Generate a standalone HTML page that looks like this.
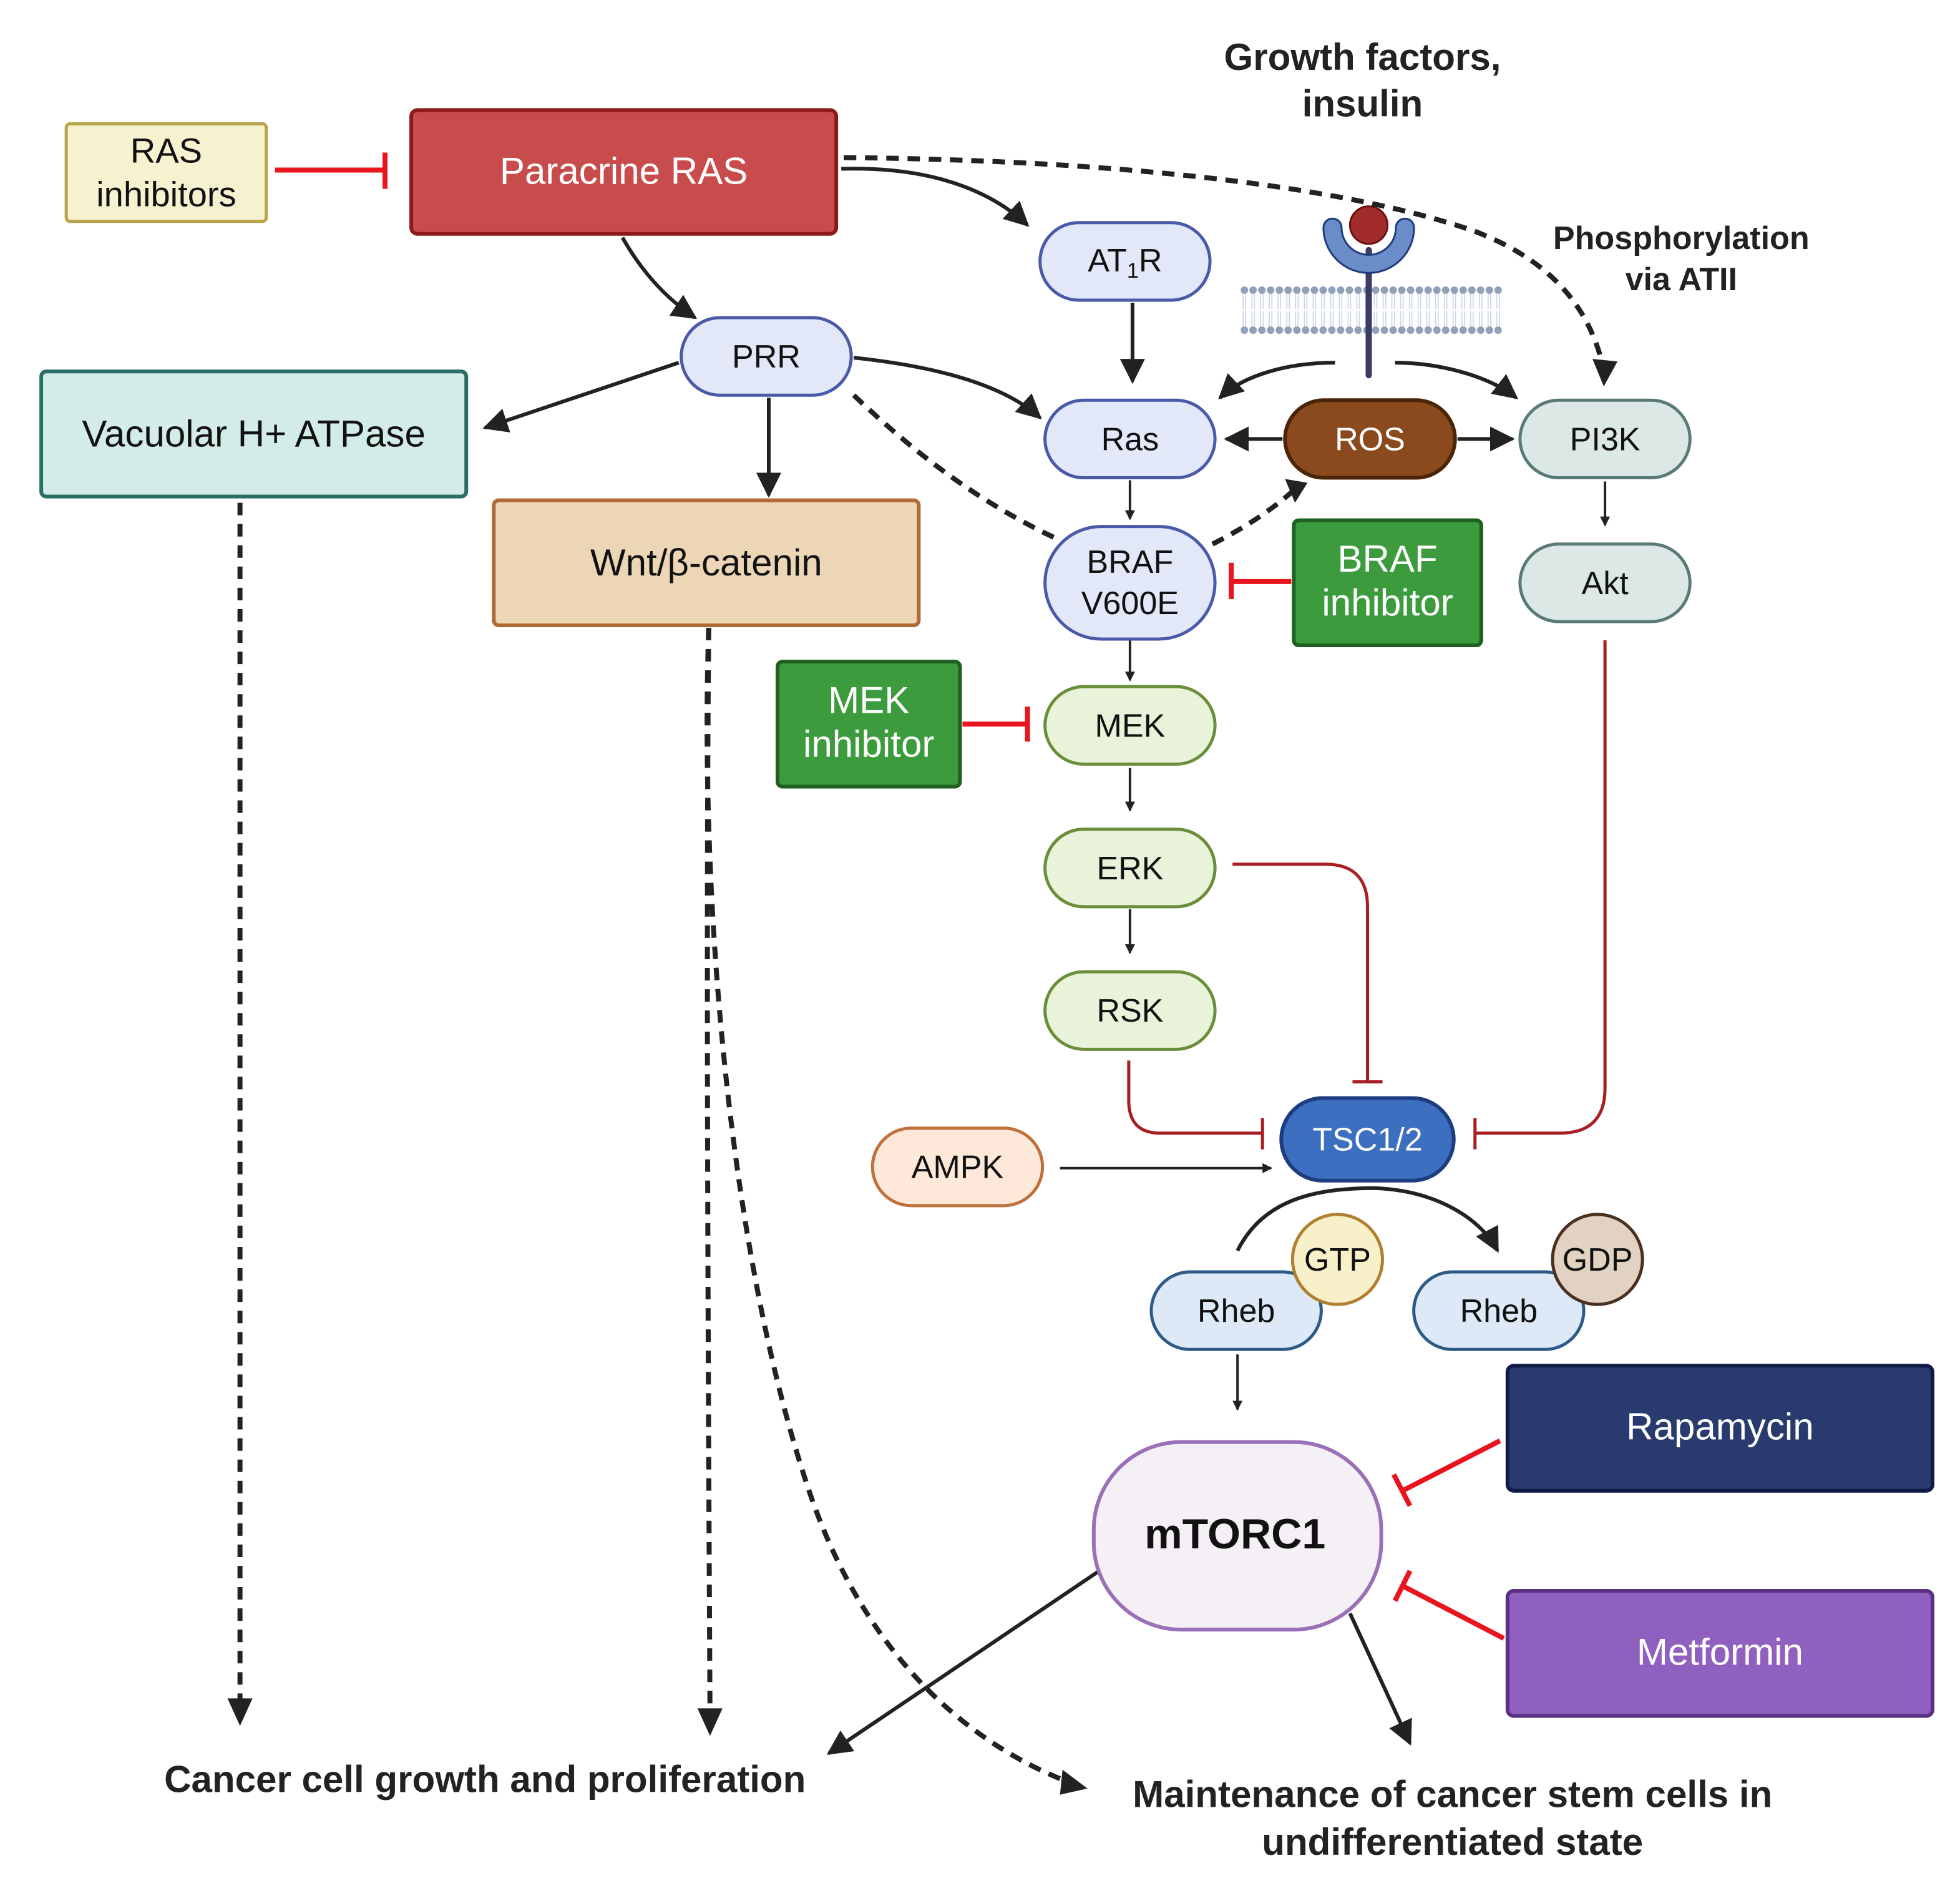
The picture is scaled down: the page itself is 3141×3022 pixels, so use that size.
<!DOCTYPE html>
<html><head><meta charset="utf-8"><style>
html,body{margin:0;padding:0;background:#fff;}
svg{display:block;}
text{font-family:"Liberation Sans",Arial,sans-serif;}
</style></head><body>
<svg width="3141" height="3022" viewBox="0 0 1568 1508" preserveAspectRatio="none" xmlns="http://www.w3.org/2000/svg">
<defs>
<marker id="a" markerWidth="8" markerHeight="8" refX="7" refY="4" orient="auto" markerUnits="userSpaceOnUse" viewBox="0 0 8 8"><path d="M0,0 L8,4 L0,8 Z" fill="#222"/></marker>
<marker id="A" viewBox="0 0 10 10" refX="9" refY="5" markerWidth="20" markerHeight="20" orient="auto" markerUnits="userSpaceOnUse"><path d="M0,0 L10,5 L0,10 Z" fill="#222"/></marker>
<pattern id="mem" x="992" y="228" width="7" height="40" patternUnits="userSpaceOnUse">
<circle cx="3.5" cy="4" r="3" fill="#8fa0b8"/><circle cx="3.5" cy="36" r="3" fill="#8fa0b8"/>
<path d="M2.5,7 V19 M4.5,7 V19 M2.5,21 V33 M4.5,21 V33" stroke="#c8d4e6" stroke-width="0.8"/>
</pattern>
</defs>
<rect width="1568" height="1508" fill="#fff"/>

<rect x="992" y="228" width="210" height="40" fill="url(#mem)"/>
<line x1="1095" y1="200" x2="1095" y2="300" stroke="#3d3a66" stroke-width="5" stroke-linecap="round"/>
<path d="M1066,182 A29,29 0 0 0 1124,182" fill="none" stroke="#1e3a7a" stroke-width="16" stroke-linecap="round"/>
<path d="M1066,182 A29,29 0 0 0 1124,182" fill="none" stroke="#6a8cc8" stroke-width="13" stroke-linecap="round"/>
<circle cx="1095" cy="180" r="15" fill="#a22c2c" stroke="#6a1010" stroke-width="1.5"/>

<g fill="none" stroke="#222" stroke-width="3">
<path d="M673,135 C740,133 790,150 822,180" marker-end="url(#A)"/>
<path d="M498,190 C515,220 535,240 556,254" marker-end="url(#A)"/>
<path d="M543,290 L388,342" marker-end="url(#A)"/>
<path d="M615,318 V396" marker-end="url(#A)"/>
<path d="M683,286 C740,292 800,305 832,334" marker-end="url(#A)"/>
<path d="M906,242 V305" marker-end="url(#A)"/>
<path d="M1068,290 C1030,290 995,300 976,318" marker-end="url(#A)"/>
<path d="M1116,290 C1150,290 1190,300 1213,318" marker-end="url(#A)"/>
<path d="M1026,351 H981" marker-end="url(#A)"/>
<path d="M1166,351 H1210" marker-end="url(#A)"/>
<path d="M990,1000 C1010,960 1050,950 1100,950 C1150,952 1185,975 1198,1000" marker-end="url(#A)"/>
<path d="M848,934 H1017" stroke-width="2" marker-end="url(#a)"/>
<path d="M878,1257 L663,1402" marker-end="url(#A)"/>
<path d="M1080,1290 L1128,1394" marker-end="url(#A)"/>
</g>
<g fill="none" stroke="#222" stroke-width="2">
<path d="M904,384 V415" marker-end="url(#a)"/>
<path d="M904,512 V544" marker-end="url(#a)"/>
<path d="M904,614 V648" marker-end="url(#a)"/>
<path d="M904,727 V762" marker-end="url(#a)"/>
<path d="M1284,385 V420" marker-end="url(#a)"/>
<path d="M990,1083 V1127" marker-end="url(#a)"/>
</g>
<g fill="none" stroke="#222" stroke-width="4" stroke-dasharray="10,7">
<path d="M675,126 C900,128 1080,150 1180,185 C1250,212 1275,255 1284,300"/>
<path d="M683,316 C740,370 790,405 848,432"/>
<path d="M970,435 C990,425 1015,410 1035,392"/>
<path d="M192,402 V1365"/>
<path d="M567,502 C565,700 566,1000 568,1370"/>
<path d="M567,502 C560,700 580,1000 650,1200 C700,1340 790,1400 855,1425"/>
</g>
<g fill="#222">
<path d="M182,1358 L202,1358 L192,1380 Z"/>
<path d="M558,1366 L578,1366 L568,1388 Z"/>
<path d="M1274,287 L1294,289 L1283,309 Z"/>
<path d="M1028,383 L1046,386 L1036,402 Z"/>
<path d="M850,1415 L870,1430 L848,1435 Z"/>
</g>

<g fill="none" stroke="#e8141e" stroke-width="4">
<path d="M220,136 H308"/><path d="M308,122 V151"/>
<path d="M1033,465 H985"/><path d="M985,450 V479"/>
<path d="M770,579 H822"/><path d="M822,565 V593"/>
<path d="M1200,1152 L1122,1192"/><path d="M1115,1179 L1128,1204"/>
<path d="M1203,1310 L1122,1268"/><path d="M1128,1256 L1116,1280"/>
</g>
<g fill="none" stroke="#a81e22" stroke-width="2.5">
<path d="M986,691 H1060 Q1094,691 1094,725 V865"/><path d="M1082,865 H1106"/>
<path d="M903,848 V880 Q903,906 928,906 H1010"/><path d="M1010,894 V919"/>
<path d="M1284,512 V870 Q1284,906 1248,906 H1180"/><path d="M1180,894 V919"/>
</g>

<g stroke-width="2.5">
<rect x="53" y="99" width="160" height="78" rx="3" fill="#f6f2d0" stroke="#b8a44a"/>
<rect x="329" y="88" width="340" height="99" rx="5" fill="#c94c4c" stroke="#8b1a1a" stroke-width="3"/>
<rect x="832" y="178" width="136" height="62" rx="31" fill="#e2e8f8" stroke="#4a5aa8"/>
<rect x="545" y="254" width="136" height="62" rx="31" fill="#e2e8f8" stroke="#4a5aa8"/>
<rect x="33" y="297" width="340" height="100" rx="4" fill="#d3ece8" stroke="#2b6e66" stroke-width="3"/>
<rect x="395" y="400" width="340" height="100" rx="4" fill="#ecd6b6" stroke="#b06a35" stroke-width="3"/>
<rect x="836" y="320" width="136" height="62" rx="31" fill="#e2e8f8" stroke="#4a5aa8"/>
<rect x="1028" y="320" width="136" height="62" rx="31" fill="#8b4a1e" stroke="#4a2508" stroke-width="3"/>
<rect x="1216" y="320" width="136" height="62" rx="31" fill="#dce8e6" stroke="#5a7a78"/>
<rect x="836" y="421" width="136" height="90" rx="45" fill="#e2e8f8" stroke="#4a5aa8"/>
<rect x="1035" y="416" width="150" height="100" rx="4" fill="#3c9b3c" stroke="#1f5f1f" stroke-width="3"/>
<rect x="1216" y="435" width="136" height="62" rx="31" fill="#dce8e6" stroke="#5a7a78"/>
<rect x="622" y="529" width="146" height="100" rx="4" fill="#3c9b3c" stroke="#1f5f1f" stroke-width="3"/>
<rect x="836" y="549" width="136" height="62" rx="31" fill="#e8f3da" stroke="#6a8e3a"/>
<rect x="836" y="663" width="136" height="62" rx="31" fill="#e8f3da" stroke="#6a8e3a"/>
<rect x="836" y="777" width="136" height="62" rx="31" fill="#e8f3da" stroke="#6a8e3a"/>
<rect x="1025" y="878" width="138" height="66" rx="33" fill="#3d6fc0" stroke="#1e3d80" stroke-width="3"/>
<rect x="698" y="902" width="136" height="62" rx="31" fill="#fde8da" stroke="#c0703a"/>
<rect x="921" y="1017" width="136" height="62" rx="31" fill="#dde9f7" stroke="#2e5a88"/>
<ellipse cx="1070" cy="1007" rx="36" ry="36" fill="#f8f0c8" stroke="#b08030"/>
<rect x="1131" y="1017" width="136" height="62" rx="31" fill="#dde9f7" stroke="#2e5a88"/>
<ellipse cx="1278" cy="1007" rx="36" ry="36" fill="#e2d2c2" stroke="#4a3020"/>
<rect x="1206" y="1092" width="340" height="100" rx="5" fill="#293a6e" stroke="#101a48" stroke-width="3"/>
<rect x="1206" y="1272" width="340" height="100" rx="5" fill="#9060c0" stroke="#5a3080" stroke-width="3"/>
<rect x="875" y="1153" width="230" height="150" rx="70" fill="#f5f0f6" stroke="#9a70b8" stroke-width="3"/>
</g>

<g font-size="28" text-anchor="middle" fill="#111">
<text x="133" y="130">RAS</text><text x="133" y="165">inhibitors</text>
<text x="499" y="147" fill="#fff" font-size="30">Paracrine RAS</text>
<text x="900" y="217" font-size="26">AT<tspan font-size="17" dy="5">1</tspan><tspan dy="-5">R</tspan></text>
<text x="613" y="294" font-size="26">PRR</text>
<text x="203" y="357" font-size="30">Vacuolar H+ ATPase</text>
<text x="565" y="460" font-size="30">Wnt/β-catenin</text>
<text x="904" y="360" font-size="26">Ras</text>
<text x="1096" y="360" font-size="26" fill="#fff">ROS</text>
<text x="1284" y="360" font-size="26">PI3K</text>
<text x="904" y="458" font-size="26">BRAF</text><text x="904" y="491" font-size="26">V600E</text>
<text x="1110" y="457" font-size="30" fill="#fff">BRAF</text><text x="1110" y="492" font-size="30" fill="#fff">inhibitor</text>
<text x="1284" y="475" font-size="26">Akt</text>
<text x="695" y="570" font-size="30" fill="#fff">MEK</text><text x="695" y="605" font-size="30" fill="#fff">inhibitor</text>
<text x="904" y="589" font-size="26">MEK</text>
<text x="904" y="703" font-size="26">ERK</text>
<text x="904" y="817" font-size="26">RSK</text>
<text x="1094" y="920" font-size="26" fill="#fff">TSC1/2</text>
<text x="766" y="942" font-size="26">AMPK</text>
<text x="989" y="1057" font-size="26">Rheb</text>
<text x="1070" y="1016" font-size="26">GTP</text>
<text x="1199" y="1057" font-size="26">Rheb</text>
<text x="1278" y="1016" font-size="26">GDP</text>
<text x="1376" y="1151" font-size="30" fill="#fff">Rapamycin</text>
<text x="1376" y="1331" font-size="30" fill="#fff">Metformin</text>
<text x="988" y="1238" font-size="34" font-weight="bold">mTORC1</text>
<g font-weight="bold" fill="#222">
<text x="1090" y="56" font-size="30">Growth factors,</text><text x="1090" y="93" font-size="30">insulin</text>
<text x="1345" y="199" font-size="26">Phosphorylation</text><text x="1345" y="232" font-size="26">via ATII</text>
<text x="388" y="1433" font-size="30">Cancer cell growth and proliferation</text>
<text x="1162" y="1445" font-size="30">Maintenance of cancer stem cells in</text>
<text x="1162" y="1483" font-size="30">undifferentiated state</text>
</g>
</g>
</svg>
</body></html>
